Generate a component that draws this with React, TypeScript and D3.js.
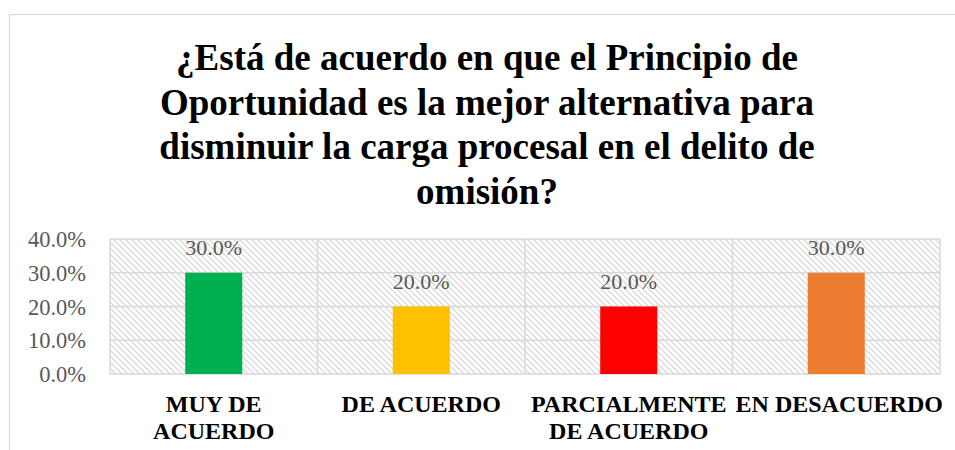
import React from "react";
import * as d3 from "d3";

const titleLines = [
  "¿Está de acuerdo en que el Principio de",
  "Oportunidad es la mejor alternativa para",
  "disminuir la carga procesal en el delito de",
  "omisión?",
];
const categories = ["MUY DE ACUERDO", "DE ACUERDO", "PARCIALMENTE DE ACUERDO", "EN DESACUERDO"];
const categoryLines = [["MUY DE", "ACUERDO"], ["DE ACUERDO"], ["PARCIALMENTE", "DE ACUERDO"], ["EN DESACUERDO"]];
const values = [0.3, 0.2, 0.2, 0.3];
const colors = ["#00B050", "#FFC000", "#FF0000", "#ED7D31"];
const yTicks = [0, 0.1, 0.2, 0.3, 0.4];

const W = 955;
const H = 450;
const plot = { left: 110, right: 940, top: 239, bottom: 374 };
const FONT = "'Liberation Serif', 'Times New Roman', serif";

export default function App() {
  const x = d3.scaleBand<string>().domain(categories).range([plot.left, plot.right]).padding(0);
  const y = d3.scaleLinear().domain([0, 0.4]).range([plot.bottom, plot.top]);
  const fmt = d3.format(".1%");
  const bw = x.bandwidth() * 0.275;
  const grid = "#d9d9d9";

  return (
    <svg width={W} height={H} style={{ position: "absolute", left: 0, top: 0 }}>
      <defs>
        <pattern id="hatch" width="6" height="6" patternUnits="userSpaceOnUse">
          <rect width="6" height="6" fill="#ffffff" />
          <path d="M-1,-1 L7,7 M-1,5 L1,7 M5,-1 L7,1" stroke="#dadada" strokeWidth="1.3" />
        </pattern>
      </defs>
      <rect x={0} y={0} width={W} height={H} fill="#ffffff" />
      <rect x={9.5} y={14.5} width={960} height={460} fill="#ffffff" stroke={grid} strokeWidth={1.2} />
      {titleLines.map((t, i) => (
        <text
          key={i}
          x={487}
          y={70 + i * 44.5}
          textAnchor="middle"
          fontFamily={FONT}
          fontWeight="bold"
          fontSize={37}
          fill="#000000"
        >
          {t}
        </text>
      ))}
      <rect
        x={plot.left}
        y={plot.top}
        width={plot.right - plot.left}
        height={plot.bottom - plot.top}
        fill="url(#hatch)"
      />
      {yTicks.map((t) => (
        <line key={"h" + t} x1={plot.left} x2={plot.right} y1={y(t)} y2={y(t)} stroke={grid} strokeWidth={1.5} />
      ))}
      {categories.map((c) => (
        <line key={"v" + c} x1={x(c)!} x2={x(c)!} y1={plot.top} y2={plot.bottom} stroke={grid} strokeWidth={1.5} />
      ))}
      <line x1={plot.right} x2={plot.right} y1={plot.top} y2={plot.bottom} stroke={grid} strokeWidth={1.5} />
      {yTicks.map((t) => (
        <text key={"t" + t} x={86} y={y(t) + 8} textAnchor="end" fontFamily={FONT} fontSize={22.5} fill="#595959">
          {fmt(t)}
        </text>
      ))}
      {categories.map((c, i) => {
        const cx = x(c)! + x.bandwidth() / 2;
        return (
          <g key={c}>
            <rect x={cx - bw / 2} y={y(values[i])} width={bw} height={y(0) - y(values[i])} fill={colors[i]} />
            <text x={cx} y={y(values[i]) - 18} textAnchor="middle" fontFamily={FONT} fontSize={22} fill="#595959">
              {fmt(values[i])}
            </text>
            {categoryLines[i].map((l, j) => (
              <text
                key={j}
                x={cx + (i === 3 ? 3 : 0)}
                y={412 + j * 27}
                textAnchor="middle"
                fontFamily={FONT}
                fontWeight="bold"
                fontSize={24}
                fill="#000000"
              >
                {l}
              </text>
            ))}
          </g>
        );
      })}
    </svg>
  );
}
